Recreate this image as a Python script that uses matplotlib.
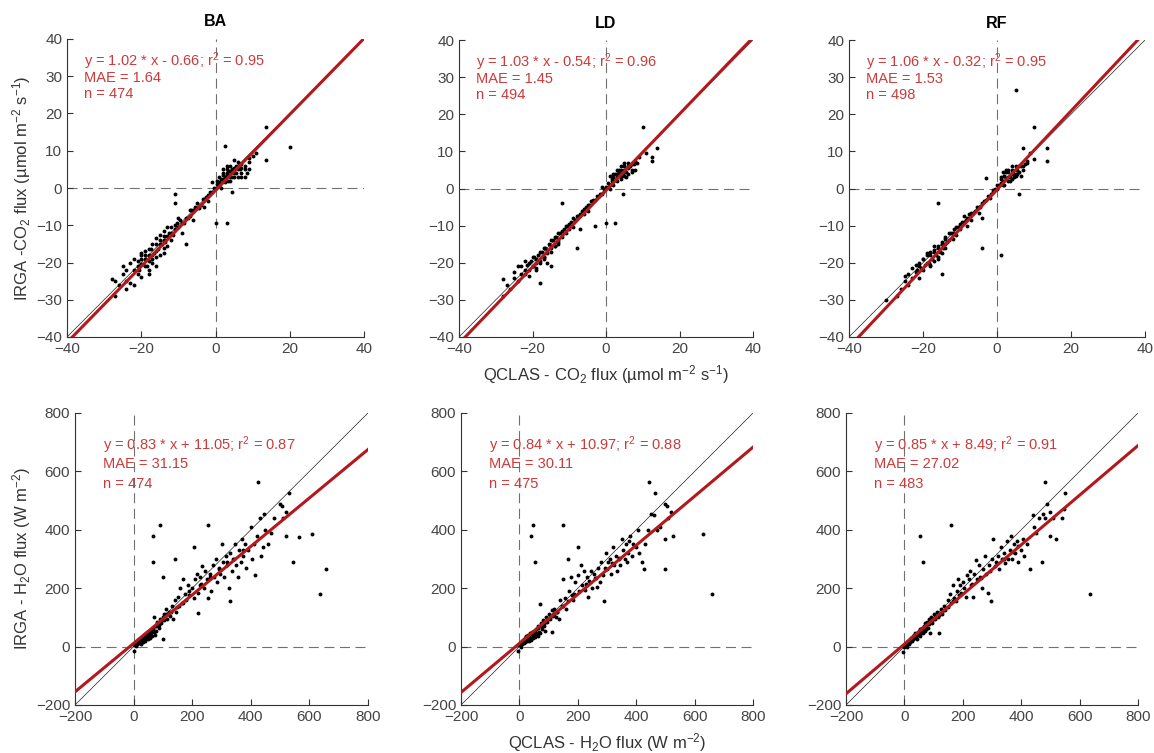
import matplotlib.pyplot as plt

plt.rcParams['font.family'] = ['Liberation Sans', 'DejaVu Sans']
plt.rcParams['mathtext.default'] = 'regular'

# ---- data ----
sites = ["BA", "LD", "RF"]

# CO2 flux scatter (QCLAS x, IRGA y), umol m-2 s-1
ba_co2_x = [-28, -27, -27, -26, -25, -25, -24, -24, -23, -22, -22, -22, -21, -21, -20, -20, -20, -19, -19, -19,
            -18, -18, -18, -17, -17, -17, -16, -16, -16, -15, -15, -15, -14, -14, -14, -13, -13, -13, -12, -12,
            -11, -11, -11, -11, -10, -10, -9, -9, -8, -8, -7, -7, -6, -6, -5, -5, -4, -3, -3, -2,
            -2, -1, -1, 0, 0, 0.5, 1, 1, 1.5, 2, 2, 2.5, 2.5, 3, 3, 3, 3.5, 4, 4, 4.5,
            4.5, 5, 5, 5.5, 6, 6, 6.5, 7, 7, 8, 8, 9, 9, 10, 11, 13.5, 13.5, 20,
            -21, -20.5, -20, -19.5, -19, -18.5, -18, -17.5, -17, -16.5, -16, -15.5, -15, -14.5, -14, -13.5, -12.5, -12,
            -11.5, -10.5, -9.5, -8.5, -7.5, -6.5, -5.5, -4.5, -3.5, -2.5, -1.5, -0.5, 0.5, 1, 1.5, 2, 2.5, 3,
            3.5, 4, 4.5, 5, 5.5, 6, 6.5, 7, 8, 8.5, 9, 2, 3, 4, 5, 6, 7, -23, -24, -18, -16, -14, -20]
ba_co2_y = [-24.5, -29, -25, -26, -21, -23, -27, -25, -25.5, -26, -22, -19, -21, -23, -24, -18, -20.5, -21, -17, -19,
            -22, -16.5, -19.5, -18, -20, -15, -17, -21, -13.5, -15, -18, -12.5, -14, -16, -11.5, -13, -15.5, -10.5, -12, -14,
            -11, -10, -1.5, -4, -10.5, -8, -9.5, -12, -15, -8, -7.5, -6, -6, -8.5, -5.5, -4, -4.5, -3, -5, -2,
            -3.5, -1, 1.5, -9.3, 0, 1, 1.5, 3, 0, 2.5, 4, 11.2, 1.5, 3.5, -9.3, 5, 2, 4.5, 6, 3,
            -1, 5.5, 7.5, 4, 6, 3, 5, 6.5, 4, 5, 3, 8, 5, 8.5, 9.5, 16.5, 7.5, 11,
            -19.5, -22, -19, -20.5, -18, -21, -18, -16.5, -19, -17.5, -15, -16.5, -14, -15, -13, -14.5, -12, -10.5,
            -12.5, -9.5, -8.5, -9.5, -8, -6, -5, -5.5, -3, -2.5, -1, 0, 2, 0.5, 2.5, 3.5, 3, 4,
            4.5, 3, 5, 4, 6, 5, 6.5, 5.5, 6, 4, 7, 5, 6, 2, 3, 7, 3, -20, -22, -23, -18.5, -17.5, -17.5]

ld_co2_x = [-28, -28, -27, -26, -25, -25, -24, -23, -23, -22, -22, -21, -21, -20, -20, -19, -19, -18, -18, -18,
            -17, -17, -16, -16, -15, -15, -15, -14, -14, -13, -13, -12, -12, -12, -11, -11, -10, -10, -9, -9,
            -8, -8, -7, -7, -6, -6, -5, -5, -4, -3, -3, -2, -1, -1, 0, 0, 1, 1, 1.5, 2,
            2, 2.5, 3, 3, 3.5, 4, 4, 4.5, 5, 5, 5.5, 6, 6, 7, 7, 8, 8, 9, 10, 11,
            12.5, 12.5, 14,
            -21.5, -21, -20.5, -20, -19.5, -19, -18.5, -18, -17.5, -17, -16.5, -16, -15.5, -15, -14.5, -14, -13.5, -13,
            -12.5, -11.5, -10.5, -9.5, -8.5, -7.5, -6.5, -5.5, -4.5, -3.5, -2.5, -1.5, -0.5, 0.5, 1, 1.5, 2, 2.5,
            3, 3.5, 4, 4.5, 5, 5.5, 6, 6.5, 7, 7.5, 8.5, 2, 3, 4, 5, 6, -24, -19, -17, -15, -13, -22]
ld_co2_y = [-29, -24.5, -26, -27, -24, -22.5, -25, -23, -21, -22, -19.5, -20, -23.5, -21, -18.5, -19, -22, -17, -20, -25.5,
            -16, -18.5, -16.5, -20, -14, -17, -21, -13, -15.5, -12, -14.5, -11.5, -4, -13, -10, -12, -9.5, -11, -8, -10.5,
            -16, -7.5, -7, -11, -5.5, -7, -4.5, -6, -3.5, -3, -10, -2, -1.5, 0.5, -9.2, 0.5, 1, 3.5, 2, 3,
            1, -9.2, 4, 2, 5, 3.5, 6, -1.5, 5, 7, 3, 6, 4, 6.5, 4.5, 7.5, 5, 8.5, 16.5, 9.5,
            7.5, 8.5, 11,
            -20.5, -22, -19.5, -21, -18.5, -20, -18, -19.5, -17, -18.5, -16, -17.5, -15, -16, -14, -15.5, -13, -14,
            -12, -11, -10, -9, -8.5, -7.5, -6, -5, -4.5, -3, -2, -1.5, 0, 1.5, 0, 2.5, 2, 4,
            3, 4.5, 5, 4, 6, 4.5, 5.5, 6, 5, 6.5, 7, 4, 5, 2.5, 3.5, 7, -21, -21.5, -19, -15.5, -15, -23]

rf_co2_x = [-30, -27, -26, -25, -24, -24, -23, -22, -22, -21, -21, -20, -20, -19, -19, -18, -18, -17, -17, -17,
            -16, -16, -16, -15, -15, -15, -14, -14, -13, -13, -12, -12, -11, -11, -10, -10, -9, -9, -8, -8,
            -7, -7, -6, -5, -5, -4, -4, -4, -3, -3, -2, -1, -1, 0, 0, 1, 1, 1, 1.5, 2,
            2, 2.5, 3, 3, 3.5, 4, 4, 4.5, 5, 5, 5.5, 6, 6, 6.5, 7, 7, 8, 9, 10, 10,
            13.5, 13.5,
            -21.5, -21, -20.5, -20, -19.5, -19, -18.5, -18, -17.5, -17, -16.5, -16, -15.5, -15, -14.5, -14, -13.5, -12.5,
            -11.5, -10.5, -9.5, -8.5, -7.5, -6.5, -5.5, -4.5, -3.5, -2.5, -1.5, -0.5, 0.5, 1, 1.5, 2, 2.5, 3,
            3.5, 4, 4.5, 5, 5.5, 6, 6.5, 7, 7.5, 8, 1.5, 2.5, 3, 4, 5, -23, -18, -16, -14, -25]
rf_co2_y = [-30, -29, -27, -25, -26, -23, -24, -22.5, -20.5, -21, -24, -19, -22, -20, -17.5, -18, -21, -17, -19.5, -15.5,
            -16, -4, -19, -15, -17.5, -23, -13.5, -16, -12, -14, -12, -13.5, -10.5, -12.5, -9.5, -11, -9, -7.5, -8, -10,
            -6.5, -8.5, -6, -5, -6.5, -16, -8, -4, 2.7, -3, -2.5, -1, -0.5, 0, 1, -17.8, 1.5, 3, 2, 3.5,
            1, 4.5, 3, 5, 2, 4, 6, 3, 26.5, 5, 4, -1.5, 6, 3.5, 6, 11, 7, 9.5, 16.5, 8,
            11, 7.5,
            -22, -20, -21.5, -19, -20.5, -18, -20, -17, -19, -16.5, -18, -15.5, -17, -14.5, -16, -13, -14.5, -12,
            -11, -10.5, -9, -8.5, -7, -6.5, -5, -5, -3.5, -2, -1.5, 0, 1, 2.5, 1, 3.5, 2.5, 4.5,
            3, 5, 4, 6, 5, 4.5, 6, 5, 6.5, 7.5, 4.5, 5, 2, 2.5, 3.5, -21.5, -20.5, -18.5, -15, -23.5]

# H2O flux scatter (QCLAS x, IRGA y), W m-2
ba_h2o_x = [0, 2, 5, 8, 10, 12, 15, 18, 20, 22, 25, 28, 30, 32, 35, 38, 40, 42, 45, 48,
            50, 52, 55, 58, 60, 62, 65, 68, 70, 72, 75, 78, 80, 85, 88, 90, 95, 100, 100, 105,
            110, 112, 115, 120, 125, 130, 135, 140, 145, 150, 155, 160, 165, 170, 175, 180, 185, 190, 200, 205,
            210, 215, 220, 225, 230, 235, 240, 245, 250, 255, 260, 265, 270, 275, 280, 285, 290, 295, 300, 305,
            310, 315, 320, 325, 330, 335, 340, 345, 350, 355, 360, 365, 370, 375, 380, 385, 390, 400, 405, 410,
            415, 420, 430, 435, 440, 445, 450, 460, 470, 480, 500, 505, 510, 520,
            65, 90, 65, 255, 425, 530, 520, 565, 610, 545, 655, 635, 330, 220, 140, 100, 205,
            6, 14, 24, 34, 44, 54, 64, 74, 84, 94, 104, 118, 128, 148, 168, 188, 228, 262, 292, 318, 342, 372]
ba_h2o_y = [-15, 5, 10, 3, 15, 8, 20, 12, 25, 18, 10, 30, 22, 15, 35, 28, 20, 45, 35, 25,
            50, 40, 30, 55, 45, 35, 60, 50, 100, 40, 70, 55, 85, 65, 75, 95, 80, 100, 25, 90,
            130, 110, 95, 120, 105, 140, 95, 160, 120, 170, 140, 200, 150, 230, 180, 160, 210, 190, 200, 165,
            230, 250, 185, 240, 215, 275, 200, 260, 230, 165, 250, 190, 280, 240, 300, 220, 270, 250, 350, 290,
            240, 310, 280, 200, 320, 260, 300, 350, 280, 240, 330, 290, 370, 310, 350, 270, 330, 410, 300, 350,
            245, 380, 440, 310, 340, 455, 400, 350, 390, 440, 490, 480, 440, 460,
            380, 415, 290, 415, 565, 525, 380, 375, 385, 290, 265, 180, 155, 115, 300, 240, 340,
            12, 22, 30, 40, 38, 52, 58, 70, 80, 88, 110, 112, 118, 135, 150, 175, 210, 240, 265, 290, 300, 330]

ld_h2o_x = [-5, 0, 3, 5, 8, 10, 12, 15, 18, 20, 22, 25, 28, 30, 32, 35, 38, 40, 42, 45,
            48, 50, 52, 55, 58, 60, 62, 65, 68, 70, 72, 75, 78, 80, 85, 88, 90, 95, 100, 105,
            110, 112, 115, 120, 125, 130, 135, 140, 145, 150, 155, 160, 165, 170, 175, 180, 185, 190, 200, 205,
            210, 215, 220, 225, 230, 235, 240, 245, 250, 255, 260, 265, 270, 275, 280, 285, 290, 295, 300, 305,
            310, 315, 320, 325, 330, 335, 340, 345, 350, 355, 360, 365, 370, 375, 380, 385, 390, 400, 405, 410,
            420, 425, 430, 440, 445, 450, 460, 465, 470, 480, 500, 500, 505, 510, 520, 525,
            40, 45, 55, 150, 500, 630, 660, 200,
            6, 14, 24, 34, 44, 54, 64, 74, 84, 94, 104, 118, 128, 148, 168, 188, 228, 262, 292, 318, 342, 372]
ld_h2o_y = [-15, 5, 12, 0, 18, 8, 22, 12, 28, 15, 35, 20, 40, 25, 18, 45, 30, 22, 50, 38,
            28, 55, 42, 32, 60, 45, 38, 70, 50, 145, 45, 80, 60, 90, 70, 55, 100, 85, 110, 95,
            125, 50, 105, 130, 100, 120, 95, 160, 140, 230, 165, 130, 300, 190, 240, 175, 160, 220, 245, 190,
            280, 210, 260, 195, 240, 170, 225, 260, 200, 250, 235, 205, 270, 220, 290, 245, 155, 320, 265, 290,
            300, 250, 340, 280, 310, 260, 300, 280, 370, 330, 300, 350, 290, 360, 380, 310, 350, 340, 400, 320,
            290, 265, 350, 400, 565, 455, 450, 525, 400, 410, 490, 370, 480, 440, 460, 380,
            380, 415, 290, 415, 265, 385, 180, 340,
            14, 20, 32, 38, 44, 50, 62, 72, 78, 92, 100, 112, 120, 140, 155, 180, 215, 235, 270, 285, 305, 320]

rf_h2o_x = [-5, 0, 2, 5, 8, 10, 12, 15, 18, 20, 22, 25, 28, 30, 32, 35, 38, 40, 42, 45,
            48, 50, 52, 55, 58, 60, 62, 65, 68, 70, 72, 75, 78, 80, 85, 88, 90, 95, 100, 105,
            110, 115, 120, 125, 130, 135, 140, 150, 155, 160, 165, 170, 175, 180, 185, 190, 195, 200, 205, 210,
            215, 220, 225, 230, 235, 240, 245, 250, 255, 260, 265, 270, 275, 280, 285, 290, 295, 300, 305, 310,
            315, 320, 325, 330, 335, 340, 345, 350, 355, 360, 365, 370, 375, 380, 385, 390, 400, 405, 410, 420,
            430, 440, 445, 450, 460, 470, 475, 480, 490, 500, 510, 520, 540, 545,
            55, 160, 65, 480, 550, 635, 500,
            6, 14, 24, 34, 44, 54, 64, 74, 84, 94, 104, 118, 128, 148, 168, 188, 228, 262, 292, 318, 342, 372, 388]
rf_h2o_y = [-20, 0, 10, 5, 15, 0, 20, 10, 25, 15, 30, 18, 35, 25, 40, 30, 45, 35, 25, 50,
            40, 55, 35, 60, 48, 65, 50, 45, 70, 55, 80, 60, 85, 65, 95, 45, 100, 80, 110, 95,
            120, 100, 45, 130, 110, 140, 125, 160, 180, 150, 210, 165, 155, 190, 230, 210, 185, 220, 200, 170,
            245, 230, 260, 215, 170, 250, 295, 230, 280, 240, 200, 265, 310, 250, 185, 280, 155, 300, 370, 275,
            290, 310, 265, 340, 300, 320, 285, 360, 300, 330, 380, 300, 350, 320, 360, 290, 330, 370, 310, 350,
            265, 450, 410, 390, 440, 290, 455, 440, 490, 460, 440, 370, 440, 470,
            380, 415, 290, 565, 525, 180, 380,
            10, 20, 28, 36, 42, 52, 60, 70, 78, 88, 100, 108, 118, 135, 155, 175, 210, 235, 260, 285, 300, 325, 345]

co2_x = [ba_co2_x, ld_co2_x, rf_co2_x]
co2_y = [ba_co2_y, ld_co2_y, rf_co2_y]
h2o_x = [ba_h2o_x, ld_h2o_x, rf_h2o_x]
h2o_y = [ba_h2o_y, ld_h2o_y, rf_h2o_y]

# fit statistics printed on the panels
co2_slope = [1.02, 1.03, 1.06]
co2_icept = [-0.66, -0.54, -0.32]
co2_r2 = [0.95, 0.96, 0.95]
co2_mae = [1.64, 1.45, 1.53]
co2_n = [474, 494, 498]

h2o_slope = [0.83, 0.84, 0.85]
h2o_icept = [11.05, 10.97, 8.49]
h2o_r2 = [0.87, 0.88, 0.91]
h2o_mae = [31.15, 30.11, 27.02]
h2o_n = [474, 475, 483]

# ---- figure ----
W, H = 1154, 753
fig = plt.figure(figsize=(W / 100, H / 100), dpi=100)

top_boxes = [(67, 39, 297, 298), (459, 40, 294, 297), (849, 40, 296, 297)]
bot_boxes = [(75, 413, 293, 292), (461, 413, 292, 292), (846, 413, 292, 292)]

red_line = '#b3191c'
red_text = '#cc3a3a'
axis_col = '#333333'


def make_ax(box):
    x0, y0, w, h = box
    ax = fig.add_axes([x0 / W, 1 - (y0 + h) / H, w / W, h / H])
    for s in ['top', 'right']:
        ax.spines[s].set_visible(False)
    for s in ['left', 'bottom']:
        ax.spines[s].set_color(axis_col)
        ax.spines[s].set_linewidth(0.8)
    ax.tick_params(direction='in', length=4, width=0.8, colors=axis_col,
                   labelsize=11, labelcolor='#444444')
    return ax


def draw(ax, xs, ys, a, b, r2, mae, n, lim, ticks_x, ticks_y, text_pos, dy):
    lo, hi = lim
    ax.axhline(0, color='#707070', lw=0.8, ls=(0, (9, 5)), zorder=1)
    ax.axvline(0, color='#707070', lw=0.8, ls=(0, (9, 5)), zorder=1)
    ax.plot([lo, hi], [lo, hi], color='#222222', lw=0.5, zorder=2)
    ax.plot(xs, ys, 'o', ms=2.8, mfc='black', mec='black', mew=0, zorder=3)
    ax.plot([lo, hi], [a * lo + b, a * hi + b], color=red_line, lw=2.2, zorder=4)
    ax.set_xlim(lo, hi)
    ax.set_ylim(lo, hi)
    ax.set_xticks(ticks_x)
    ax.set_yticks(ticks_y)
    sign = '-' if b < 0 else '+'
    tx, ty = text_pos
    ax.text(tx, ty, 'y = %.2f * x %s %.2f; r$^{2}$ = %.2f' % (a, sign, abs(b), r2),
            color=red_text, fontsize=10.5, va='center', zorder=5)
    ax.text(tx, ty - dy, 'MAE = %.2f' % mae, color=red_text, fontsize=10.5, va='center', zorder=5)
    ax.text(tx, ty - 2 * dy, 'n = %d' % n, color=red_text, fontsize=10.5, va='center', zorder=5)


for i in range(3):
    ax = make_ax(top_boxes[i])
    draw(ax, co2_x[i], co2_y[i], co2_slope[i], co2_icept[i], co2_r2[i], co2_mae[i], co2_n[i],
         (-40, 40), [-40, -20, 0, 20, 40], list(range(-40, 41, 10)), (-35.5, 34), 4.4)
    ax.set_title(sites[i], fontsize=11.5, fontweight='bold', pad=9)
    if i == 0:
        ax.set_ylabel('IRGA -CO$_2$ flux (µmol m$^{-2}$ s$^{-1}$)', fontsize=12, color='#333333', labelpad=2)
    if i == 1:
        ax.set_xlabel('QCLAS - CO$_2$ flux (µmol m$^{-2}$ s$^{-1}$)', fontsize=12, color='#333333', labelpad=5)

for i in range(3):
    ax = make_ax(bot_boxes[i])
    draw(ax, h2o_x[i], h2o_y[i], h2o_slope[i], h2o_icept[i], h2o_r2[i], h2o_mae[i], h2o_n[i],
         (-200, 800), list(range(-200, 801, 200)), list(range(-200, 801, 200)), (-105, 690), 66)
    if i == 0:
        ax.set_ylabel('IRGA - H$_2$O flux (W m$^{-2}$)', fontsize=12, color='#333333', labelpad=2)
    if i == 1:
        ax.set_xlabel('QCLAS - H$_2$O flux (W m$^{-2}$)', fontsize=12, color='#333333', labelpad=5)

fig.savefig('out.png', dpi=100, facecolor='white')
